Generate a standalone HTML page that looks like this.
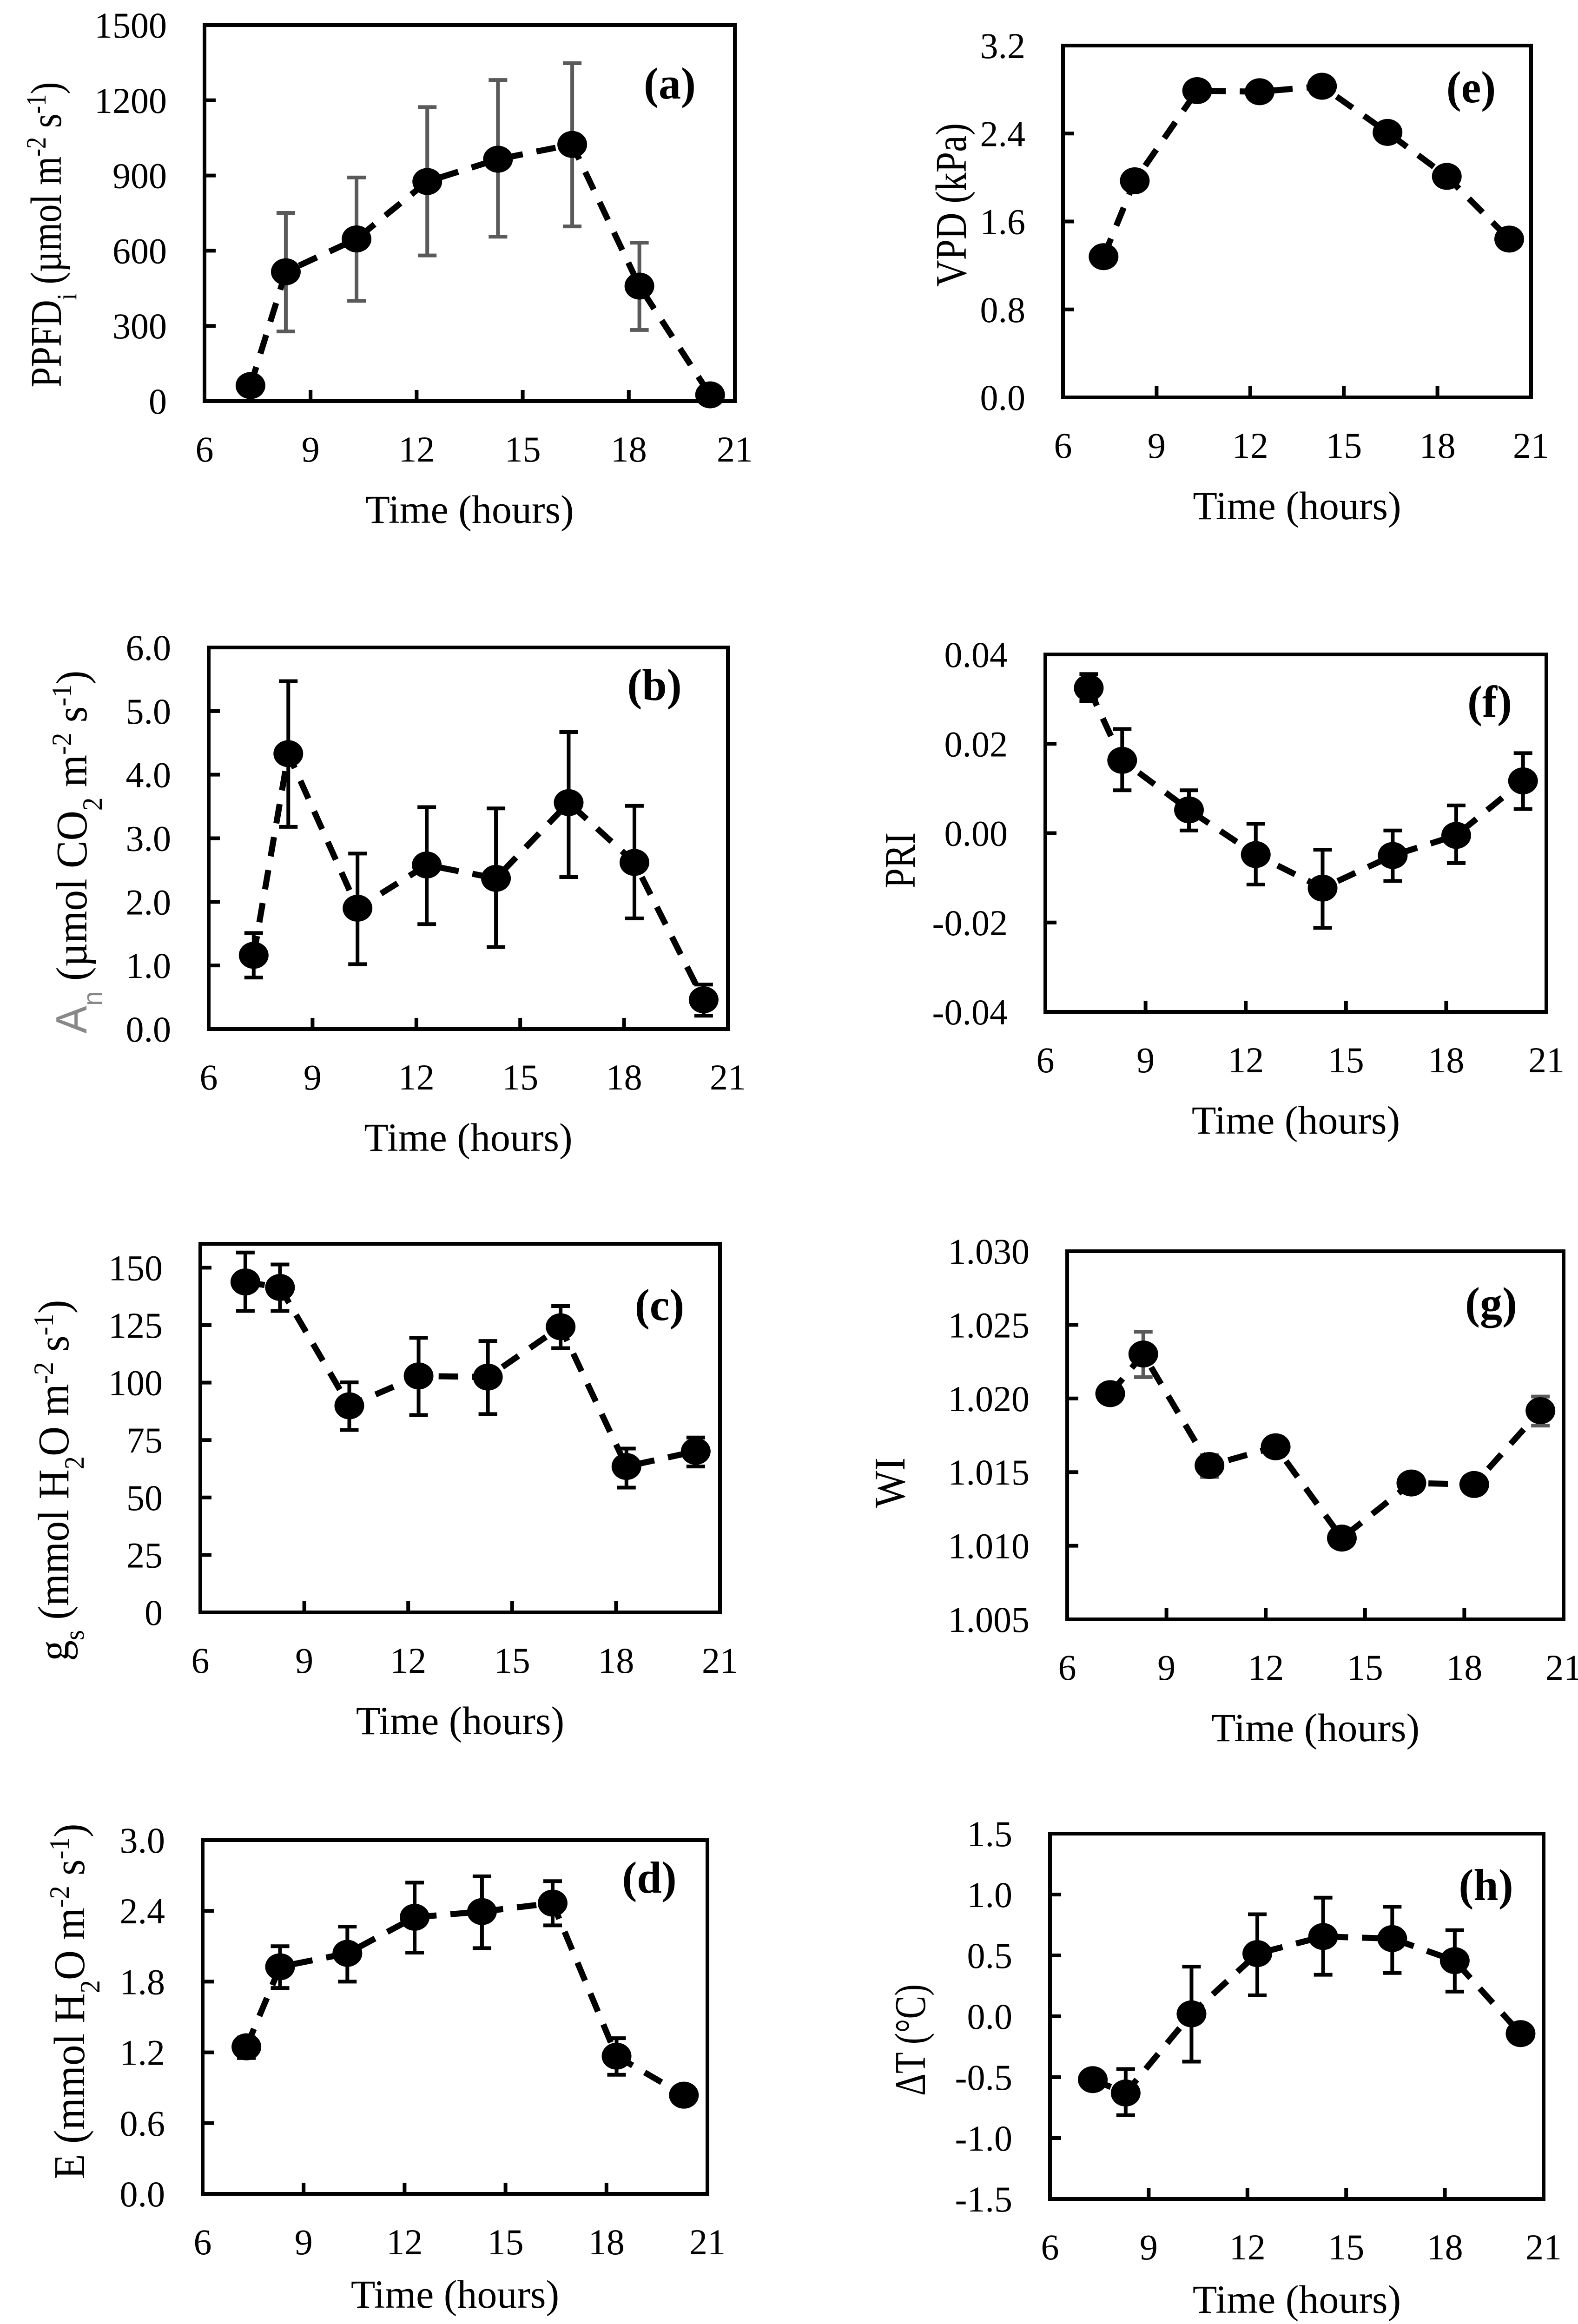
<!DOCTYPE html>
<html><head><meta charset="utf-8"><style>
html,body{margin:0;padding:0;background:#fff;width:3395px;height:5014px;overflow:hidden;}
svg{display:block;overflow:hidden;}
text{font-family:"Liberation Serif",serif;fill:#000;}
</style></head><body>
<svg id="fig" xmlns="http://www.w3.org/2000/svg" width="3395" height="5014" viewBox="0 0 3395 5014"></svg>
<script>
// ---- shared data ----
const hours = [7.3, 8.3, 10.3, 12.3, 14.3, 16.4, 18.3, 20.3];
const xTickLabels = ["6", "9", "12", "15", "18", "21"];

// (a) PPFDi
const aValues = [62, 516, 647, 876, 965, 1024, 459, 25];
const aHi = [62, 751, 892, 1173, 1281, 1348, 632, 25];
const aLo = [62, 278, 400, 581, 656, 697, 284, 25];
const aTicks = ["0", "300", "600", "900", "1200", "1500"];
// (b) An
const bValues = [1.16, 4.33, 1.90, 2.58, 2.37, 3.56, 2.62, 0.46];
const bHi = [1.51, 5.47, 2.76, 3.49, 3.47, 4.67, 3.51, 0.70];
const bLo = [0.81, 3.18, 1.02, 1.65, 1.29, 2.39, 1.74, 0.21];
const bTicks = ["0.0", "1.0", "2.0", "3.0", "4.0", "5.0", "6.0"];
// (c) gs
const cValues = [143.8, 141.4, 89.9, 102.9, 102.4, 124.3, 63.5, 70.1];
const cHi = [156.6, 151.4, 100.1, 119.5, 118.1, 133.3, 71.3, 76.1];
const cLo = [131.2, 131.2, 79.4, 85.9, 86.3, 115.0, 54.3, 63.5];
const cTicks = ["0", "25", "50", "75", "100", "125", "150"];
// (d) E
const dValues = [1.247, 1.926, 2.04, 2.346, 2.394, 2.466, 1.168, 0.837];
const dHi = [1.326, 2.10, 2.267, 2.64, 2.693, 2.652, 1.32, 0.857];
const dLo = [1.152, 1.746, 1.80, 2.046, 2.084, 2.277, 1.01, 0.817];
const dTicks = ["0.0", "0.6", "1.2", "1.8", "2.4", "3.0"];
// (e) VPD
const eValues = [1.28, 1.97, 2.79, 2.78, 2.83, 2.41, 2.01, 1.44];
const eTicks = ["0.0", "0.8", "1.6", "2.4", "3.2"];
// (f) PRI
const fValues = [0.0325, 0.0163, 0.0052, -0.0048, -0.0123, -0.0050, -0.0005, 0.0117];
const fHi = [0.0356, 0.0233, 0.0096, 0.0021, -0.0037, 0.0006, 0.0062, 0.0179];
const fLo = [0.0296, 0.0096, 0.0006, -0.0115, -0.0212, -0.0107, -0.0067, 0.0054];
const fTicks = ["-0.04", "-0.02", "0.00", "0.02", "0.04"];
// (g) WI
const gValues = [1.02033, 1.02302, 1.01545, 1.01672, 1.01052, 1.01426, 1.01416, 1.01917];
const gHi = [1.02063, 1.02453, 1.01616, 1.01735, 1.01082, 1.01456, 1.01446, 1.02013];
const gLo = [1.02003, 1.02145, 1.01467, 1.01608, 1.01022, 1.01396, 1.01386, 1.01816];
const gTicks = ["1.005", "1.010", "1.015", "1.020", "1.025", "1.030"];
// (h) dT
const hValues = [-0.52, -0.63, 0.02, 0.515, 0.655, 0.638, 0.457, -0.142];
const hHi = [-0.49, -0.433, 0.408, 0.838, 0.974, 0.90, 0.707, -0.112];
const hLo = [-0.55, -0.812, -0.372, 0.172, 0.341, 0.356, 0.203, -0.172];
const hTicks = ["-1.5", "-1.0", "-0.5", "0.0", "0.5", "1.0", "1.5"];

const NS = "http://www.w3.org/2000/svg";
const svg = document.getElementById("fig");
function mk(tag, attrs, parent) {
  const el = document.createElementNS(NS, tag);
  for (const k in attrs) el.setAttribute(k, attrs[k]);
  (parent || svg).appendChild(el);
  return el;
}

const panels = [
  {id:"a", L:440, R:1581, T:54, B:863, ymin:0, ymax:1500, ticks:aTicks, v:aValues, hi:aHi, lo:aLo, err:"#5a5a5a",
   label:"(a)", lx:1441, ly:212, tx:99, ty:505, tlen:657, xto:262,
   title:[["PPFD",""],["i","sub"],[" (µmol m",""],["-2","sup"],[" s",""],["-1","sup"],[")",""]]},
  {id:"e", L:2287, R:3294, T:98, B:855, ymin:0, ymax:3.2, ticks:eTicks, v:eValues, hi:null, lo:null, err:"#000",
   label:"(e)", lx:3165, ly:220, tx:2046, ty:441, tlen:352, xto:262, title:[["VPD (kPa)",""]]},
  {id:"b", L:449, R:1566, T:1393, B:2214, ymin:0, ymax:6, ticks:bTicks, v:bValues, hi:bHi, lo:bLo, err:"#000",
   label:"(b)", lx:1408, ly:1506, tx:154, ty:1833, tlen:781, xto:262,
   title:[["A","gray"],["n","graysub"],["  (µmol CO",""],["2","sub"],["  m",""],["-2","sup"],[" s",""],["-1","sup"],[")",""]]},
  {id:"f", L:2249, R:3327, T:1408, B:2177, ymin:-0.04, ymax:0.04, ticks:fTicks, v:fValues, hi:fHi, lo:fLo, err:"#000",
   label:"(f)", lx:3205, ly:1542, tx:1936, ty:1851, tlen:120, xto:262, title:[["PRI",""]]},
  {id:"c", L:431, R:1549, T:2676, B:3469, ymin:0, ymax:160.4, ticks:cTicks, v:cValues, hi:cHi, lo:cLo, err:"#000",
   label:"(c)", lx:1419, ly:2840, tx:115, ty:3185, tlen:777, xto:262,
   title:[["g",""],["s","sub"],[" (mmol H",""],["2","sub"],["O m",""],["-2","sup"],[" s",""],["-1","sup"],[")",""]]},
  {id:"g", L:2296, R:3364, T:2692, B:3484, ymin:1.005, ymax:1.030, ticks:gTicks, v:gValues, hi:gHi, lo:gLo, err:"#5a5a5a",
   label:"(g)", lx:3208, ly:2836, tx:1914, ty:3190, tlen:108, xto:262, title:[["WI",""]]},
  {id:"d", L:436, R:1522, T:3959, B:4720, ymin:0, ymax:3.0, ticks:dTicks, v:dValues, hi:dHi, lo:dLo, err:"#000",
   label:"(d)", lx:1397, ly:4072, tx:149, ty:4306, tlen:765, xto:245,
   title:[["E (mmol H",""],["2","sub"],["O m",""],["-2","sup"],[" s",""],["-1","sup"],[")",""]]},
  {id:"h", L:2259, R:3321, T:3945, B:4731, ymin:-1.5, ymax:1.5, ticks:hTicks, v:hValues, hi:hHi, lo:hLo, err:"#000",
   label:"(h)", lx:3197, ly:4088, tx:1958, ty:4389, tlen:240, xto:245, title:[["ΔT (°C)",""]]}
];

panels.forEach(p => {
  const g = mk("g", {});
  
  
  const xs = h => p.L + (h - 6) / 15 * (p.R - p.L);
  const ys = v => p.B - (v - p.ymin) / (p.ymax - p.ymin) * (p.B - p.T);

  p.ticks.forEach(t => {
    const val = parseFloat(t);
    const y = ys(val);
    if (y > p.T + 5 && y < p.B - 5) {
      const tk = mk("line", {x1:p.L, x2:p.L + 24, y1:y, y2:y, stroke:"#000", "stroke-width":8}, g);
      
      
    }
    const tl = mk("text", {x:p.L - 81, y:y + 27, "font-size":78, "text-anchor":"end"}, g);
    tl.textContent = t;
    
    
  });
  xTickLabels.forEach(t => {
    const h = parseFloat(t);
    const x = xs(h);
    if (h > 6 && h < 21) {
      const tk = mk("line", {x1:x, x2:x, y1:p.B, y2:p.B - 24, stroke:"#000", "stroke-width":8}, g);
      
      
    }
    const tl = mk("text", {x:x, y:p.B + 130, "font-size":78, "text-anchor":"middle"}, g);
    tl.textContent = t;
    
    
  });
  const fr = mk("rect", {x:p.L, y:p.T, width:p.R - p.L, height:p.B - p.T, fill:"none", stroke:"#000", "stroke-width":8}, g);
  
  

  const xt = mk("text", {x:(p.L + p.R) / 2, y:p.B + p.xto, "font-size":86, "text-anchor":"middle"}, g);
  xt.textContent = "Time (hours)";
  
  

  const yt = mk("text", {x:0, y:32, "font-size":94, "text-anchor":"middle", transform:"translate(" + p.tx + "," + p.ty + ") rotate(-90)", textLength:p.tlen, lengthAdjust:"spacingAndGlyphs"}, g);
  
  
  p.title.forEach(([s, kind]) => {
    const ts = mk("tspan", {}, yt);
    ts.textContent = s;
    if (kind === "sub" || kind === "graysub") { ts.setAttribute("baseline-shift", "sub"); ts.setAttribute("font-size", 60); }
    if (kind === "sup") { ts.setAttribute("baseline-shift", "super"); ts.setAttribute("font-size", 60); }
    if (kind === "gray" || kind === "graysub") { ts.setAttribute("fill", "#888"); ts.setAttribute("font-family", "Liberation Sans, sans-serif"); }
  });

  const pl = mk("text", {x:p.lx, y:p.ly, "font-size":96, "font-weight":"bold", "text-anchor":"middle"}, g);
  pl.textContent = p.label;
  
  

  if (p.hi) {
    hours.forEach((h, i) => {
      const x = xs(h), y1 = ys(p.hi[i]), y2 = ys(p.lo[i]);
      const eb = mk("path", {d:"M" + x + "," + y1 + "V" + y2 + "M" + (x - 20) + "," + y1 + "H" + (x + 20) + "M" + (x - 20) + "," + y2 + "H" + (x + 20),
        stroke:p.err, "stroke-width":8, fill:"none"}, g);
      
      
    });
  }
  const pts = hours.map((h, i) => xs(h) + "," + ys(p.v[i])).join(" ");
  const ln = mk("polyline", {points:pts, fill:"none", stroke:"#000", "stroke-width":13, "stroke-dasharray":"42 30", "stroke-linecap":"butt"}, g);
  
  
  hours.forEach((h, i) => {
    const c = mk("ellipse", {cx:xs(h), cy:ys(p.v[i]), rx:32, ry:29, fill:"#000"}, g);
    
    
  });
});
</script>
</body></html>
